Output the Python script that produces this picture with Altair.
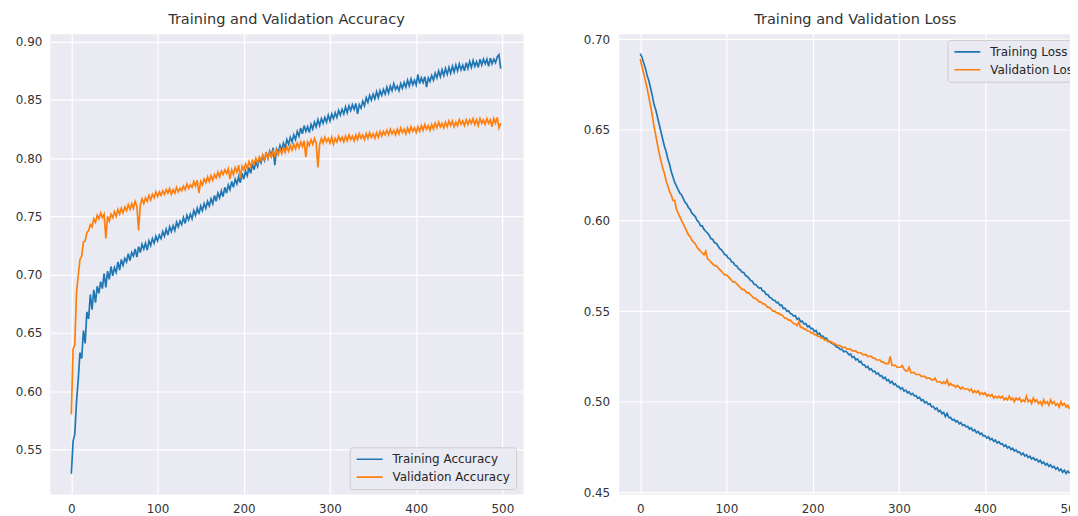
import altair as alt
import pandas as pd

epochs = list(range(0, 500, 2))

train_acc = [
    0.529, 0.557, 0.563, 0.591, 0.610, 0.633, 0.628, 0.652, 0.641, 0.668,
    0.662, 0.683, 0.670, 0.687, 0.676, 0.690, 0.684, 0.694, 0.688, 0.701,
    0.689, 0.703, 0.696, 0.707, 0.699, 0.706, 0.702, 0.711, 0.704, 0.713,
    0.708, 0.714, 0.711, 0.718, 0.712, 0.719, 0.716, 0.722, 0.715, 0.724,
    0.719, 0.726, 0.722, 0.727, 0.721, 0.729, 0.725, 0.731, 0.727, 0.733,
    0.729, 0.734, 0.731, 0.737, 0.733, 0.739, 0.734, 0.741, 0.737, 0.742,
    0.738, 0.745, 0.741, 0.746, 0.743, 0.749, 0.744, 0.751, 0.747, 0.752,
    0.748, 0.755, 0.751, 0.757, 0.752, 0.759, 0.755, 0.761, 0.757, 0.763,
    0.759, 0.765, 0.761, 0.768, 0.763, 0.770, 0.766, 0.772, 0.767, 0.775,
    0.770, 0.777, 0.773, 0.780, 0.775, 0.782, 0.778, 0.784, 0.779, 0.787,
    0.782, 0.789, 0.785, 0.792, 0.787, 0.795, 0.790, 0.797, 0.793, 0.800,
    0.796, 0.802, 0.798, 0.805, 0.800, 0.806, 0.802, 0.809, 0.794, 0.808,
    0.805, 0.811, 0.807, 0.813, 0.809, 0.816, 0.812, 0.818, 0.814, 0.820,
    0.816, 0.823, 0.819, 0.826, 0.821, 0.828, 0.823, 0.827, 0.822, 0.829,
    0.825, 0.831, 0.827, 0.833, 0.828, 0.834, 0.830, 0.835, 0.831, 0.837,
    0.832, 0.838, 0.834, 0.839, 0.835, 0.841, 0.837, 0.842, 0.838, 0.844,
    0.839, 0.845, 0.841, 0.846, 0.842, 0.847, 0.838, 0.846, 0.843, 0.849,
    0.845, 0.852, 0.848, 0.854, 0.850, 0.855, 0.851, 0.857, 0.852, 0.858,
    0.854, 0.859, 0.855, 0.861, 0.856, 0.862, 0.858, 0.864, 0.859, 0.862,
    0.858, 0.864, 0.860, 0.865, 0.861, 0.867, 0.862, 0.868, 0.863, 0.867,
    0.863, 0.872, 0.864, 0.869, 0.865, 0.870, 0.861, 0.869, 0.866, 0.871,
    0.867, 0.873, 0.869, 0.875, 0.870, 0.876, 0.871, 0.877, 0.872, 0.878,
    0.873, 0.879, 0.874, 0.880, 0.875, 0.881, 0.876, 0.880, 0.875, 0.882,
    0.877, 0.883, 0.878, 0.884, 0.879, 0.883, 0.878, 0.885, 0.880, 0.885,
    0.881, 0.885, 0.879, 0.886, 0.881, 0.885, 0.882, 0.887, 0.889, 0.877,
]

val_acc = [
    0.580, 0.636, 0.640, 0.685, 0.699, 0.713, 0.716, 0.728, 0.729, 0.736,
    0.738, 0.743, 0.741, 0.748, 0.745, 0.751, 0.748, 0.753, 0.749, 0.752,
    0.731, 0.750, 0.746, 0.752, 0.749, 0.754, 0.750, 0.756, 0.752, 0.757,
    0.753, 0.758, 0.755, 0.760, 0.756, 0.761, 0.757, 0.763, 0.759, 0.738,
    0.760, 0.765, 0.761, 0.766, 0.763, 0.768, 0.764, 0.769, 0.766, 0.771,
    0.767, 0.771, 0.768, 0.772, 0.769, 0.773, 0.770, 0.774, 0.769, 0.773,
    0.770, 0.775, 0.771, 0.774, 0.772, 0.776, 0.773, 0.778, 0.774, 0.777,
    0.775, 0.780, 0.776, 0.781, 0.770, 0.780, 0.777, 0.782, 0.779, 0.784,
    0.780, 0.785, 0.781, 0.786, 0.783, 0.788, 0.784, 0.789, 0.786, 0.790,
    0.787, 0.791, 0.782, 0.790, 0.786, 0.792, 0.788, 0.794, 0.783, 0.793,
    0.790, 0.795, 0.791, 0.797, 0.793, 0.798, 0.795, 0.800, 0.796, 0.801,
    0.798, 0.803, 0.799, 0.804, 0.800, 0.805, 0.801, 0.806, 0.802, 0.807,
    0.803, 0.808, 0.804, 0.809, 0.805, 0.810, 0.806, 0.811, 0.807, 0.812,
    0.808, 0.813, 0.809, 0.814, 0.810, 0.815, 0.801, 0.814, 0.811, 0.816,
    0.812, 0.817, 0.813, 0.792, 0.812, 0.817, 0.813, 0.818, 0.814, 0.817,
    0.813, 0.818, 0.812, 0.817, 0.814, 0.819, 0.815, 0.818, 0.814, 0.819,
    0.815, 0.820, 0.816, 0.819, 0.815, 0.820, 0.816, 0.821, 0.817, 0.820,
    0.816, 0.821, 0.817, 0.822, 0.818, 0.821, 0.817, 0.822, 0.818, 0.823,
    0.819, 0.823, 0.820, 0.824, 0.820, 0.825, 0.821, 0.824, 0.820, 0.825,
    0.821, 0.826, 0.822, 0.825, 0.821, 0.826, 0.822, 0.827, 0.823, 0.826,
    0.822, 0.827, 0.823, 0.828, 0.824, 0.829, 0.825, 0.828, 0.824, 0.829,
    0.825, 0.830, 0.826, 0.831, 0.827, 0.830, 0.826, 0.831, 0.827, 0.832,
    0.828, 0.832, 0.827, 0.831, 0.828, 0.833, 0.829, 0.832, 0.828, 0.833,
    0.829, 0.833, 0.830, 0.834, 0.829, 0.833, 0.828, 0.834, 0.830, 0.833,
    0.829, 0.834, 0.830, 0.833, 0.827, 0.834, 0.830, 0.835, 0.826, 0.830,
]

train_loss = [
    0.692, 0.690, 0.687, 0.684, 0.680, 0.677, 0.673, 0.669, 0.664, 0.661,
    0.657, 0.653, 0.649, 0.645, 0.641, 0.638, 0.634, 0.631, 0.627, 0.624,
    0.621, 0.619, 0.617, 0.615, 0.614, 0.612, 0.610, 0.609, 0.607, 0.606,
    0.604, 0.603, 0.602, 0.600, 0.599, 0.597, 0.597, 0.595, 0.594, 0.593,
    0.5918, 0.5899, 0.5896, 0.5878, 0.5874, 0.5861, 0.5846, 0.5839, 0.5826, 0.5812,
    0.5808, 0.5792, 0.5789, 0.5771, 0.5768, 0.5752, 0.5749, 0.5733, 0.5728, 0.5714,
    0.5713, 0.5697, 0.5691, 0.5682, 0.5668, 0.5665, 0.5648, 0.5646, 0.5634, 0.5627,
    0.5628, 0.5611, 0.5609, 0.5592, 0.5591, 0.5576, 0.5572, 0.5561, 0.5559, 0.5547,
    0.5548, 0.5531, 0.5533, 0.5514, 0.5516, 0.5499, 0.5502, 0.5487, 0.5483, 0.5472,
    0.5474, 0.5455, 0.5461, 0.5441, 0.5445, 0.5428, 0.5431, 0.5414, 0.5418, 0.5402,
    0.5404, 0.5387, 0.5393, 0.5372, 0.5378, 0.5361, 0.5362, 0.5349, 0.5350, 0.5334,
    0.5333, 0.5322, 0.5318, 0.5311, 0.5301, 0.5299, 0.5288, 0.5289, 0.5276, 0.5279,
    0.5272, 0.5259, 0.5263, 0.5244, 0.5249, 0.5231, 0.5236, 0.5218, 0.5222, 0.5204,
    0.5203, 0.5189, 0.5194, 0.5176, 0.5181, 0.5166, 0.5168, 0.5153, 0.5158, 0.5142,
    0.5143, 0.5128, 0.5135, 0.5116, 0.5121, 0.5104, 0.5112, 0.5094, 0.5098, 0.5083,
    0.5084, 0.5069, 0.5077, 0.5058, 0.5064, 0.5049, 0.5054, 0.5039, 0.5046, 0.5032,
    0.5033, 0.5018, 0.5024, 0.5006, 0.5011, 0.4994, 0.4999, 0.4985, 0.4989, 0.4972,
    0.4974, 0.4958, 0.4965, 0.4946, 0.4952, 0.4934, 0.4941, 0.4918, 0.4935, 0.4912,
    0.4913, 0.4898, 0.4903, 0.4889, 0.4894, 0.4878, 0.4884, 0.4869, 0.4873, 0.4861,
    0.4863, 0.4849, 0.4855, 0.4839, 0.4845, 0.4829, 0.4836, 0.4820, 0.4826, 0.4811,
    0.4813, 0.4799, 0.4806, 0.4790, 0.4797, 0.4781, 0.4788, 0.4772, 0.4779, 0.4766,
    0.4768, 0.4754, 0.4761, 0.4745, 0.4752, 0.4736, 0.4743, 0.4728, 0.4734, 0.4720,
    0.4723, 0.4708, 0.4716, 0.4700, 0.4707, 0.4692, 0.4699, 0.4684, 0.4691, 0.4678,
    0.4683, 0.4668, 0.4676, 0.4659, 0.4667, 0.4651, 0.4659, 0.4643, 0.4652, 0.4637,
    0.4643, 0.4628, 0.4636, 0.4619, 0.4628, 0.4611, 0.4622, 0.4604, 0.4617, 0.4606,
]

val_loss = [
    0.689, 0.685, 0.681, 0.677, 0.673, 0.668, 0.663, 0.658, 0.652, 0.647,
    0.642, 0.637, 0.633, 0.629, 0.626, 0.622, 0.619, 0.616, 0.614, 0.611,
    0.611, 0.606, 0.604, 0.602, 0.600, 0.598, 0.596, 0.594, 0.592, 0.591,
    0.589, 0.588, 0.587, 0.585, 0.584, 0.583, 0.582, 0.581, 0.583, 0.579,
    0.578, 0.577, 0.576, 0.575, 0.575, 0.574, 0.573, 0.572, 0.571, 0.570,
    0.570, 0.569, 0.568, 0.567, 0.566, 0.566, 0.565, 0.564, 0.563, 0.562,
    0.562, 0.561, 0.560, 0.560, 0.559, 0.558, 0.557, 0.557, 0.556, 0.555,
    0.555, 0.554, 0.554, 0.553, 0.552, 0.552, 0.551, 0.550, 0.550, 0.549,
    0.549, 0.548, 0.548, 0.547, 0.546, 0.546, 0.545, 0.545, 0.544, 0.543,
    0.543, 0.542, 0.544, 0.541, 0.541, 0.540, 0.540, 0.539, 0.539, 0.538,
    0.538, 0.537, 0.537, 0.536, 0.536, 0.535, 0.535, 0.534, 0.534, 0.533,
    0.533, 0.533, 0.532, 0.532, 0.531, 0.531, 0.531, 0.530, 0.530, 0.530,
    0.529, 0.529, 0.529, 0.528, 0.528, 0.528, 0.527, 0.527, 0.527, 0.526,
    0.526, 0.526, 0.525, 0.525, 0.525, 0.524, 0.524, 0.523, 0.523, 0.523,
    0.522, 0.522, 0.521, 0.521, 0.521, 0.525, 0.520, 0.520, 0.520, 0.519,
    0.519, 0.519, 0.520, 0.518, 0.517, 0.517, 0.519, 0.516, 0.516, 0.516,
    0.515, 0.515, 0.515, 0.514, 0.514, 0.514, 0.513, 0.513, 0.513, 0.512,
    0.512, 0.513, 0.511, 0.511, 0.511, 0.510, 0.511, 0.510, 0.512, 0.509,
    0.510, 0.509, 0.509, 0.508, 0.509, 0.508, 0.507, 0.508, 0.507, 0.507,
    0.507, 0.506, 0.507, 0.505, 0.506, 0.505, 0.506, 0.504, 0.505, 0.504,
    0.505, 0.503, 0.504, 0.503, 0.504, 0.502, 0.503, 0.502, 0.503, 0.502,
    0.503, 0.501, 0.502, 0.501, 0.503, 0.501, 0.502, 0.500, 0.502, 0.501,
    0.502, 0.500, 0.501, 0.500, 0.503, 0.500, 0.501, 0.499, 0.502, 0.500,
    0.501, 0.499, 0.500, 0.498, 0.501, 0.499, 0.500, 0.498, 0.501, 0.499,
    0.500, 0.498, 0.499, 0.497, 0.500, 0.498, 0.499, 0.497, 0.498, 0.496,
]

acc_labels = ["Training Accuracy", "Validation Accuracy"]
loss_labels = ["Training Loss", "Validation Loss"]
line_colors = ["#1f77b4", "#ff7f0e"]
x_ticks = [0, 100, 200, 300, 400, 500]
acc_ticks = [0.55, 0.60, 0.65, 0.70, 0.75, 0.80, 0.85, 0.90]
loss_ticks = [0.45, 0.50, 0.55, 0.60, 0.65, 0.70]

FONT = "DejaVu Sans"
n = len(epochs)

acc_df = pd.DataFrame({
    "epoch": epochs + epochs,
    "value": train_acc + val_acc,
    "series": [acc_labels[0]] * n + [acc_labels[1]] * n,
})
loss_df = pd.DataFrame({
    "epoch": epochs + epochs,
    "value": train_loss + val_loss,
    "series": [loss_labels[0]] * n + [loss_labels[1]] * n,
})


def panel(df, labels, title, ydom, yticks, width, lx, ly, lpad, extent):
    return alt.Chart(
        df,
        title=alt.TitleParams(
            title, fontSize=14.6, font=FONT, color="#333333", fontWeight="normal",
            offset=-5, baseline="alphabetic", anchor="middle",
        ),
    ).mark_line(strokeWidth=1.7, clip=True).encode(
        x=alt.X(
            "epoch:Q",
            scale=alt.Scale(domain=[-24.95, 523.95], nice=False, zero=False),
            axis=alt.Axis(values=x_ticks, title=None, labelPadding=9, format="d"),
        ),
        y=alt.Y(
            "value:Q",
            scale=alt.Scale(domain=ydom, nice=False, zero=False),
            axis=alt.Axis(values=yticks, format=".2f", title=None,
                          labelPadding=lpad, minExtent=extent, maxExtent=extent),
        ),
        color=alt.Color(
            "series:N",
            scale=alt.Scale(domain=labels, range=line_colors),
            legend=alt.Legend(
                title=None, orient="none", legendX=lx, legendY=ly,
                symbolType="stroke", symbolSize=676, symbolStrokeWidth=1.7,
                labelFont=FONT, labelFontSize=12, labelColor="#262626",
                fillColor="#EAEAF2", strokeColor="#CCCCCC", cornerRadius=3,
                padding=6, rowPadding=6, clipHeight=12, labelOffset=9,
                direction="vertical", labelLimit=300,
            ),
        ),
    ).properties(width=width, height=462)


left = panel(acc_df, acc_labels, "Training and Validation Accuracy",
             [0.5115, 0.9068], acc_ticks, 475, 301, 415, 8, 41)
right = panel(loss_df, loss_labels, "Training and Validation Loss",
              [0.449, 0.7029], loss_ticks, 475, 330, 6, 9, 42)

chart = alt.hconcat(left, right, spacing=52).resolve_scale(
    color="independent"
).resolve_legend(color="independent").properties(
    padding={"left": 0, "top": 2, "right": -23, "bottom": 0}
).configure_view(
    fill="#EAEAF2", stroke="transparent"
).configure_axis(
    grid=True, gridColor="#FFFFFF", gridWidth=1.2, domain=False, ticks=False,
    labelFont=FONT, labelFontSize=12, labelColor="#333333",
)

chart.save("out.html", embed_options={"renderer": "svg", "actions": False})
